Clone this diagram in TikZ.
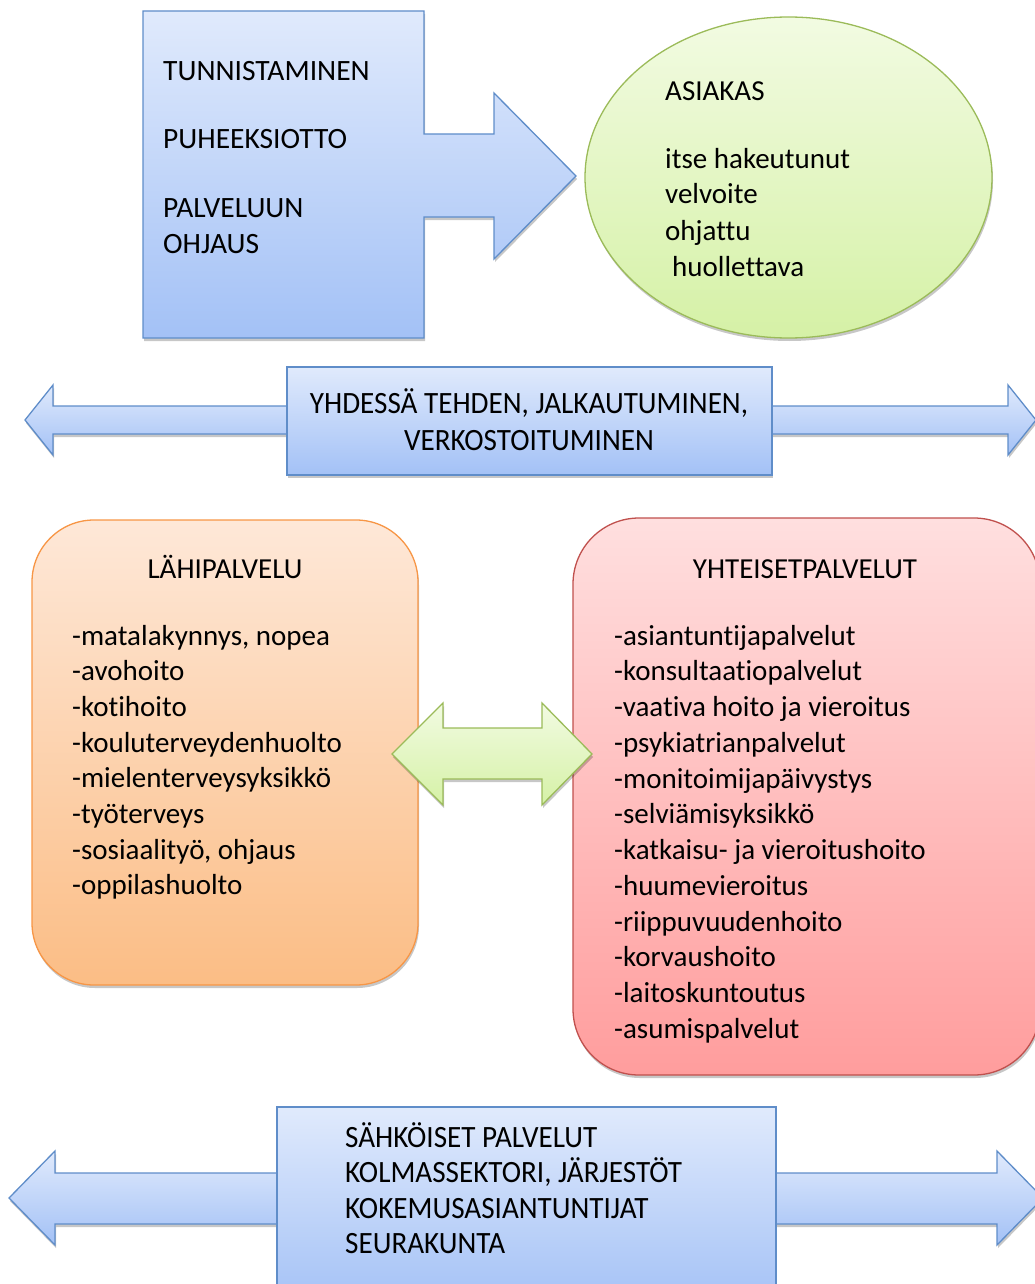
\documentclass[tikz,border=0pt]{standalone}
\usepackage{fontspec}
\setmainfont{Carlito}[Ligatures=NoCommon]
\newfontfamily\condfont{Carlito}[FakeStretch=0.94,Ligatures=NoCommon]
\usetikzlibrary{shapes.geometric,shadows}
\definecolor{bluebd}{HTML}{5F8DC9}
\definecolor{bluetop}{HTML}{E0EAFC}
\definecolor{bluebot}{HTML}{A3C1F6}
\definecolor{greenbd}{HTML}{9BBB59}
\definecolor{greentop}{HTML}{F2FBE2}
\definecolor{greenbot}{HTML}{D5F1A6}
\definecolor{orangebd}{HTML}{F79646}
\definecolor{orangetop}{HTML}{FEE8D8}
\definecolor{orangebot}{HTML}{FBBD85}
\definecolor{redbd}{HTML}{C0504D}
\definecolor{redtop}{HTML}{FFDFDF}
\definecolor{redbot}{HTML}{FF9D9D}
\begin{document}
\begin{tikzpicture}[x=1pt,y=-1pt,
  softshadow/.style={drop shadow={shadow xshift=1pt,shadow yshift=-3pt,opacity=0.22,fill=black}},
  blueshape/.style={draw=bluebd,line width=1.3pt,top color=bluetop,bottom color=bluebot,softshadow},
  greenshape/.style={draw=greenbd,line width=1.3pt,top color=greentop,bottom color=greenbot,softshadow},
  orangeshape/.style={draw=orangebd,line width=1.3pt,top color=orangetop,bottom color=orangebot,softshadow},
  redshape/.style={draw=redbd,line width=1.3pt,top color=redtop,bottom color=redbot,softshadow},
  txt/.style={anchor=base west,inner sep=0pt,font=\fontsize{29}{35}\selectfont},
  toptxt/.style={anchor=base west,inner sep=0pt,font=\fontsize{29.5}{35}\selectfont},
  bandtxt/.style={anchor=base,inner sep=0pt,font=\condfont\fontsize{31}{37}\selectfont},
  bandtxtl/.style={anchor=base west,inner sep=0pt,font=\condfont\fontsize{31}{37}\selectfont},
  boxnode/.style={rectangle,inner sep=0pt}]
\useasboundingbox (0,0) rectangle (1035,1284);
\clip (0,0) rectangle (1035,1284);

% ---------- top: box merged with arrow ----------
\path[blueshape] (143,11) -- (424,11) -- (424,134) -- (494,134) -- (494,93)
  -- (576,176) -- (494,259) -- (494,217) -- (424,217) -- (424,338) -- (143,338) -- cycle;
\node[toptxt] (tA) at (163,81) {TUNNISTAMINEN};
\node[toptxt] (tB) at (163,149) {PUHEEKSIOTTO};
\node[toptxt] (tC) at (163,217) {PALVELUUN};
\node[toptxt] (tD) at (163,253) {OHJAUS};

% ---------- ellipse ----------
\node[ellipse,greenshape,minimum width=407,minimum height=321,inner sep=0pt] (asiakas) at (788.5,177.5) {};
\node[txt] (eA) at (665,101) {ASIAKAS};
\node[txt] (eB) at (665,168) {itse hakeutunut};
\node[txt] (eC) at (665,204) {velvoite};
\node[txt] (eD) at (665,240) {ohjattu};
\node[txt] (eE) at (672,276) {huollettava};

% ---------- middle band ----------
\path[blueshape] (25,420) -- (53,385) -- (53,406) -- (1008,406) -- (1008,385)
  -- (1036,420) -- (1008,455) -- (1008,434) -- (53,434) -- (53,455) -- cycle;
\node[boxnode,blueshape,minimum width=485,minimum height=108] (band1) at (529.5,421) {};
\node[bandtxt] (b1a) at (529,413) {YHDESSÄ TEHDEN, JALKAUTUMINEN,};
\node[bandtxt] (b1b) at (529,450) {VERKOSTOITUMINEN};

% ---------- rounded boxes ----------
\node[boxnode,orangeshape,rounded corners=62pt,minimum width=386,minimum height=465] (lahi) at (225,752.5) {};
\node[boxnode,redshape,rounded corners=66pt,minimum width=467,minimum height=557] (yht) at (806.5,796.5) {};

\node[anchor=base,inner sep=0pt,font=\fontsize{29}{35}\selectfont] (lahiT) at (225,578) {LÄHIPALVELU};
\foreach \t [count=\i] in {{-matalakynnys, nopea},{-avohoito},{-kotihoito},{-kouluterveydenhuolto},{-mielenterveysyksikkö},{-työterveys},{-sosiaalityö, ohjaus},{-oppilashuolto}}
  \node[txt] (lahi\i) at (72,{645+35.7*(\i-1)}) {\t};

\node[anchor=base,inner sep=0pt,font=\fontsize{29}{35}\selectfont] (yhtT) at (805,578) {YHTEISETPALVELUT};
\foreach \t [count=\i] in {{-asiantuntijapalvelut},{-konsultaatiopalvelut},{-vaativa hoito ja vieroitus},{-psykiatrianpalvelut},{-monitoimijapäivystys},{-selviämisyksikkö},{-katkaisu- ja vieroitushoito},{-huumevieroitus},{-riippuvuudenhoito},{-korvaushoito},{-laitoskuntoutus},{-asumispalvelut}}
  \node[txt] (yht\i) at (614,{645+35.75*(\i-1)}) {\t};

% ---------- green double arrow ----------
\path[greenshape] (392,754) -- (443,703) -- (443,728) -- (542,728) -- (542,703)
  -- (592,754) -- (542,805) -- (542,779) -- (443,779) -- (443,805) -- cycle;

% ---------- bottom band ----------
\path[blueshape] (9,1198) -- (55,1151) -- (55,1173) -- (997,1173) -- (997,1151)
  -- (1043,1198) -- (997,1245) -- (997,1224) -- (55,1224) -- (55,1245) -- cycle;
\node[boxnode,blueshape,minimum width=499,minimum height=200] (band2) at (526.5,1207) {};
\node[bandtxtl] (b2a) at (345,1147) {SÄHKÖISET PALVELUT};
\node[bandtxtl] (b2b) at (345,1182) {KOLMASSEKTORI, JÄRJESTÖT};
\node[bandtxtl] (b2c) at (345,1218) {KOKEMUSASIANTUNTIJAT};
\node[bandtxtl] (b2d) at (345,1253) {SEURAKUNTA};
\end{tikzpicture}
\end{document}
